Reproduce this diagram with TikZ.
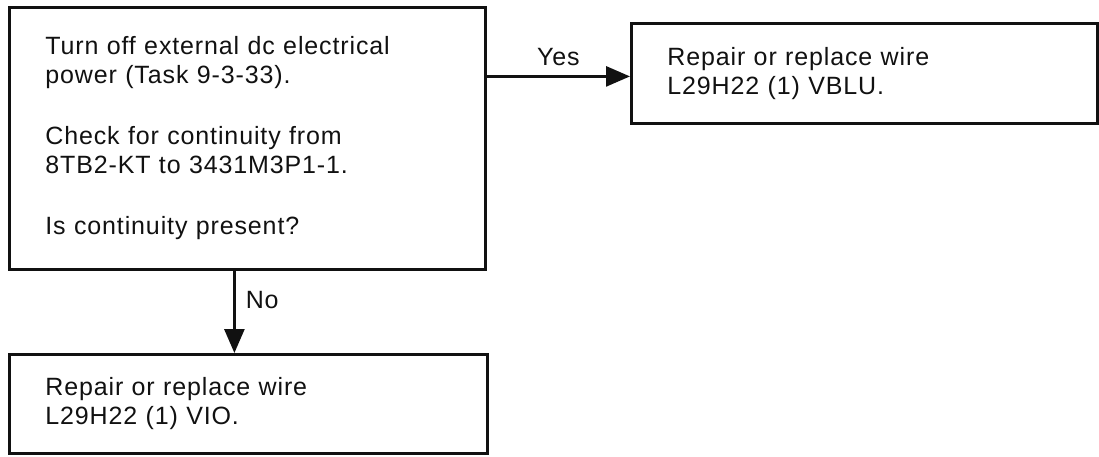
\documentclass[tikz,border=0pt]{standalone}
\usepackage{fontspec}
\setmainfont{Liberation Sans}[LetterSpace=3.5]
\usepackage{tikz}
\usepackage{xcolor}
\usetikzlibrary{positioning, arrows.meta}
\definecolor{inkBlack}{HTML}{111111}

\begin{document}
\begin{tikzpicture}[x=0.5pt, y=-0.5pt,
    tskbox/.style={draw=inkBlack, line width=1.4pt, anchor=north west, align=left,
                   inner xsep=18pt, font=\fontsize{12.5}{14.5}\selectfont, text=inkBlack},
    flow/.style={-{Triangle[length=12pt, width=10pt]}, line width=1.4pt, draw=inkBlack},
    lbl/.style={font=\fontsize{12.5}{15}\selectfont, text=inkBlack, inner sep=2pt}]
        \useasboundingbox (0,0) rectangle (1099,456);
        % question box
        \node[tskbox, text width=202pt, minimum height=131pt] (check) at (8,6)
          {Turn off external dc electrical\\
           power (Task 9-3-33).\\[16pt]
           Check for continuity from\\
           8TB2-KT to 3431M3P1-1.\\[16pt]
           Is continuity present?};
        % answer boxes
        \node[tskbox, text width=197pt, minimum height=50pt] (fixvblu) at (630,22)
          {Repair or replace wire\\
           L29H22 (1) VBLU.};
        \node[tskbox, text width=203pt, minimum height=49.5pt] (fixvio) at (8,353)
          {Repair or replace wire\\
           L29H22 (1) VIO.};
        \coordinate (yesin) at ([yshift=-1.5pt]fixvblu.west);
        \coordinate (noout) at ([xshift=-6.5pt]check.south);
        \draw[flow] (check.east |- yesin) -- node[lbl, above=2.5pt] {Yes} (yesin);
        \draw[flow] (noout) -- node[lbl, right=3pt, pos=0.35] {No} (noout |- fixvio.north);
      \end{tikzpicture}
\end{document}
